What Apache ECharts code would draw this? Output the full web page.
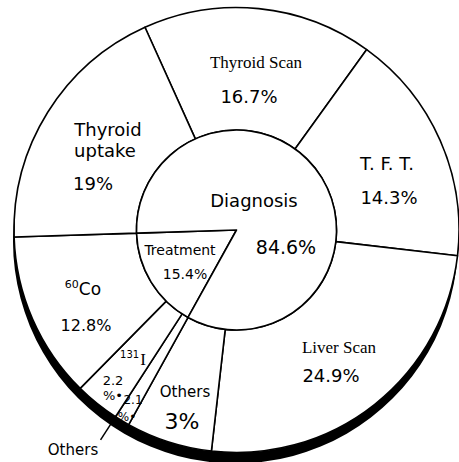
<!DOCTYPE html>
<html>
<head>
<meta charset="utf-8">
<script src="https://cdn.jsdelivr.net/npm/echarts@6/dist/echarts.min.js"></script>
<style>
html,body{margin:0;padding:0;background:#fff;}
#chart{width:459px;height:462px;}
</style>
</head>
<body>
<div id="chart"></div>
<script>
// ---- data ----
// outer ring, clockwise starting at the Thyroid Scan slice
var outerNames = ['Thyroid Scan', 'T.F.T.', 'Liver Scan', 'Others', 'Others', '131I', '60Co', 'Thyroid uptake'];
var outerLabels = ['16.7%', '14.3%', '24.9%', '3%', '2.1%', '2.2%', '12.8%', '19%'];
// share of the circle each slice occupies as drawn (percent)
var outerShares = [16.7, 16.9, 24.95, 6.25, 1.1, 3.25, 12.1, 18.75];
// inner circle, clockwise starting at the Treatment wedge
var innerNames = ['Treatment', 'Diagnosis'];
var innerLabels = ['15.4%', '84.6%'];
var innerShares = [16.45, 83.55];

// ---- layout / style ----
var CX = 236.5, CY = 230, R_OUT = 222.5, R_IN = 100;
var OUTER_START = 114.3;  // echarts degrees (ccw from 3 o'clock)
var INNER_START = 241;
var SANS = 'DejaVu Sans';
var SERIF = 'Liberation Serif';

var chart = echarts.init(document.getElementById('chart'), null, {renderer: 'svg'});

function txt(text, x, y, size, font, extra) {
  var st = {text: text, x: x, y: y, fontSize: size, fontFamily: font, fill: '#000',
            textAlign: 'center', textVerticalAlign: 'middle'};
  if (extra) for (var k in extra) st[k] = extra[k];
  return {type: 'text', z: 100, style: st};
}

// pointer line for the small "Others" (2.1%) slice, following its boundary outward
var cum = 0;
for (var i = 0; i <= 4; i++) cum += outerShares[i];
var total = outerShares.reduce(function (a, b) { return a + b; }, 0);
var angCw = (90 - OUTER_START) + cum / total * 360;
var rad = angCw * Math.PI / 180;
var dx = Math.sin(rad), dy = -Math.cos(rad);

var graphics = [
  {type: 'line', z: 100, shape: {x1: CX + dx * (R_OUT - 2), y1: CY + dy * (R_OUT - 2),
                                 x2: CX + dx * 250, y2: CY + dy * 250},
   style: {stroke: '#000', lineWidth: 1.5}},
  txt(outerNames[0], 256, 62, 17, SERIF),
  txt(outerLabels[0], 249, 96, 18, SANS),
  txt('T. F. T.', 387, 163, 18, SANS),
  txt(outerLabels[1], 389, 197, 18, SANS),
  txt('Liver Scan', 339, 347, 17, SERIF),
  txt(outerLabels[2], 331, 375, 18, SANS),
  txt(outerNames[3], 185, 392, 15, SANS),
  txt(outerLabels[3], 182, 421, 22, SANS),
  txt('2.1', 133, 400, 12, SANS),
  txt('%\u2022', 127, 417, 12, SANS),
  txt(outerNames[4], 73, 450, 15, SANS),
  {type: 'text', z: 100, style: {text: '{s|131}{b|I}', x: 133, y: 359, textAlign: 'center', textVerticalAlign: 'middle',
     rich: {s: {fontSize: 10, fontFamily: SANS, padding: [0, 1, 9, 0]},
            b: {fontSize: 17, fontFamily: SERIF}}}},
  txt('2.2', 113, 380, 13, SANS),
  txt('%\u2022', 113, 395, 13, SANS),
  {type: 'text', z: 100, style: {text: '{s|60}{b|Co}', x: 83, y: 289, textAlign: 'center', textVerticalAlign: 'middle',
     rich: {s: {fontSize: 11, fontFamily: SANS, padding: [0, 0, 10, 0]},
            b: {fontSize: 17, fontFamily: SANS}}}},
  txt(outerLabels[6], 86, 325, 16, SANS),
  txt('Thyroid', 108, 129, 18, SANS),
  txt('uptake', 105, 150, 18, SANS),
  txt(outerLabels[7], 93, 183, 18, SANS),
  txt(innerNames[1], 254, 200, 18, SANS),
  txt(innerLabels[1], 286, 247, 19, SANS),
  txt(innerNames[0], 180, 250, 14, SANS),
  txt(innerLabels[0], 185, 274, 14, SANS)
];

var outerData = outerShares.map(function (v, i) { return {name: outerNames[i] + ' ' + outerLabels[i], value: v}; });
var innerData = innerShares.map(function (v, i) { return {name: innerNames[i], value: v}; });

chart.setOption({
  animation: false,
  backgroundColor: '#fff',
  graphic: graphics,
  series: [
    { // drop shadow under the disc
      type: 'pie', silent: true, center: [CX - 1, CY + 11], radius: [0, R_OUT],
      label: {show: false}, labelLine: {show: false}, z: 1,
      itemStyle: {color: '#000', borderWidth: 0},
      data: [{name: 'shadow', value: 1}]
    },
    {
      type: 'pie', silent: true, center: [CX, CY], radius: [R_IN, R_OUT],
      startAngle: OUTER_START, clockwise: true, avoidLabelOverlap: false, minAngle: 0,
      label: {show: false}, labelLine: {show: false}, z: 2,
      itemStyle: {color: '#fff', borderColor: '#000', borderWidth: 1.6},
      data: outerData
    },
    {
      type: 'pie', silent: true, center: [CX, CY], radius: [0, R_IN],
      startAngle: INNER_START, clockwise: true, avoidLabelOverlap: false,
      label: {show: false}, labelLine: {show: false}, z: 3,
      itemStyle: {color: '#fff', borderColor: '#000', borderWidth: 1.6},
      data: innerData
    }
  ]
});
</script>
</body>
</html>
